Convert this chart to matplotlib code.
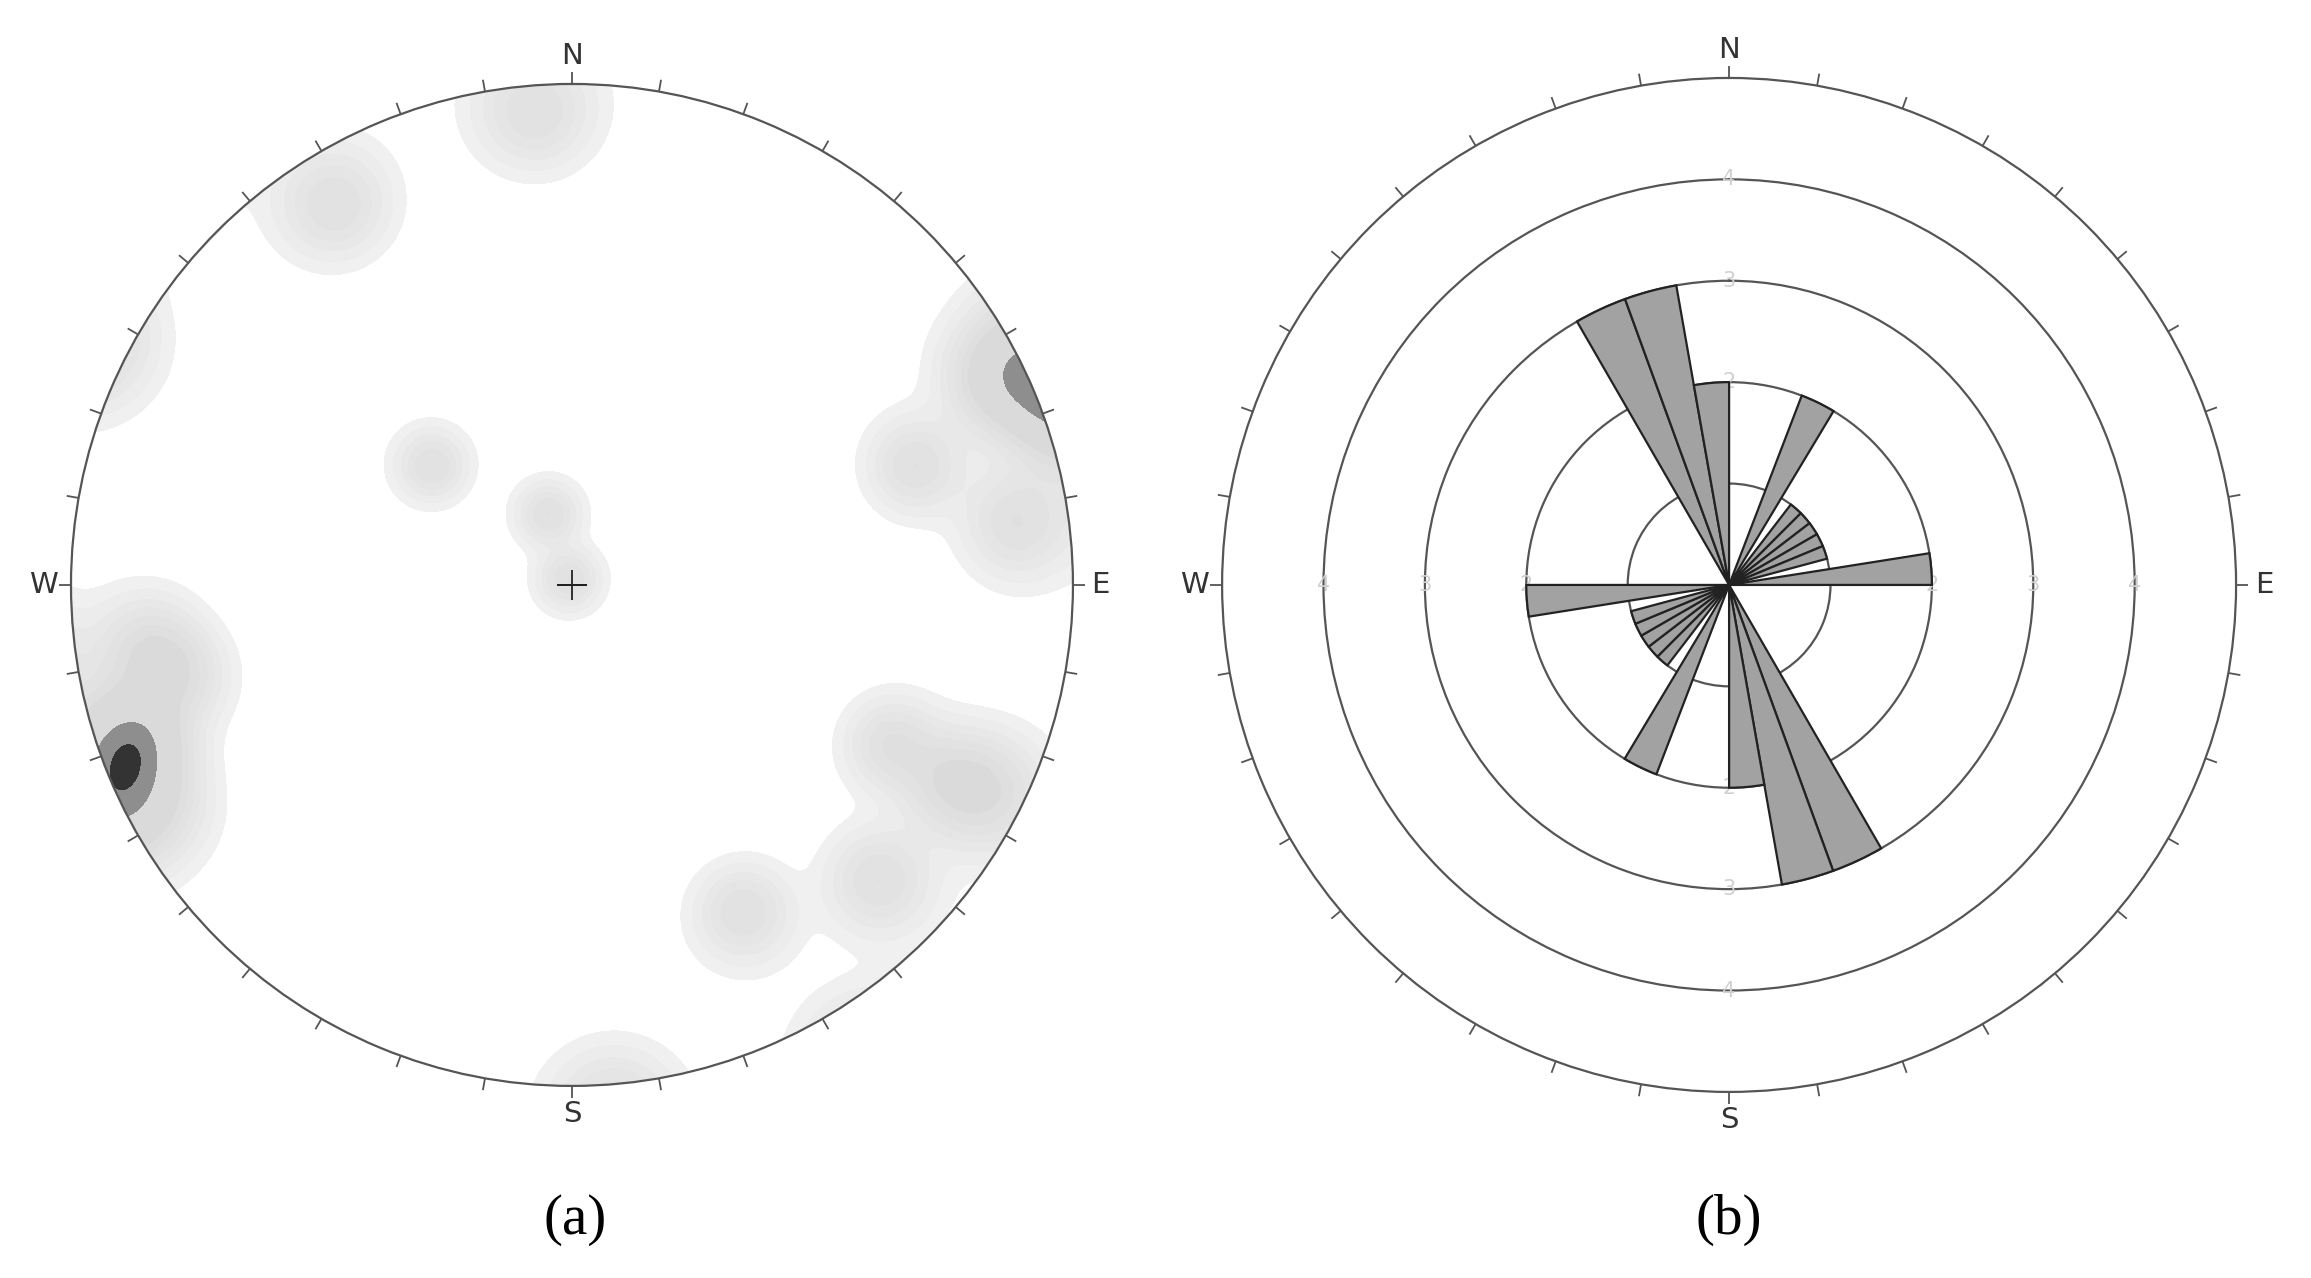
import numpy as np
import matplotlib
matplotlib.use('Agg')
import matplotlib.pyplot as plt

pole_trend = [355.5, 328, 116.6, 310.5, 341.6, 333,
              250, 261.5, 257, 242.4,
              65, 64, 70.8, 82,
              116.5, 117.3, 133.9, 152.4]
pole_plunge = [3, 6.3, 4, 49.7, 73.1, 88.5,
               3.6, 8.9, 12, 3,
               1.6, 3, 18.1, 6.2,
               19, 9.2, 9.3, 17.2]
pole_count = [1, 1, 1, 1, 1, 1,
              3, 1, 1, 1,
              1, 1, 1, 1,
              1, 1, 1, 1]

# (b) rose diagram, 0-180 half (axial data, mirrored to the other half)
rose_start = [330, 340, 350, 21, 37.5, 45, 52.5, 60, 67.5, 81]
rose_width = [10, 10, 10, 10, 7.5, 7.5, 7.5, 7.5, 7.5, 9]
rose_count = [3, 3, 2, 2, 1, 1, 1, 1, 1, 2]

ring_values = [1, 2, 3, 4]
ring_labels = [2, 3, 4]
cardinals = {0: 'N', 90: 'E', 180: 'S', 270: 'W'}

# density contour levels for (a)
levels = [0.1, 0.22, 0.38, 0.55, 0.75, 1.0, 1.3, 2.85, 3.65, 50]
level_colors = ['#f0f0f0', '#ececec', '#e8e8e8', '#e5e5e5', '#e2e2e2',
                '#dfdfdf', '#dadada', '#8e8e8e', '#333333']

EDGE = '#555555'


def setup_compass(ax, rmax):
    ax.set_theta_zero_location('N')
    ax.set_theta_direction(-1)
    ax.set_ylim(0, rmax)
    ax.set_yticks([])
    ax.set_xticks(np.radians(list(cardinals)))
    ax.set_xticklabels(list(cardinals.values()))
    ax.tick_params(axis='x', direction='out', length=10, width=1.3,
                   color=EDGE, pad=3, labelsize=21, labelcolor='#333333')
    ax.xaxis.grid(False)
    ax.spines['polar'].set_color(EDGE)
    ax.spines['polar'].set_linewidth(1.6)
    # 10 degree ticks outside the rim
    tick_len = rmax * 0.024
    for a in np.radians(np.arange(0, 360, 10)):
        ax.plot([a, a], [rmax, rmax + tick_len], color=EDGE, lw=1.3,
                clip_on=False, solid_capstyle='butt')


def density(trend, plunge, weight, kappa=170):
    th = np.radians(np.linspace(0, 360, 721))
    r = np.linspace(0, 1, 301)
    TH, R = np.meshgrid(th, r)
    # inverse equal-angle (stereographic) projection, lower hemisphere
    ang = 2 * np.arctan(R)
    g = np.stack([np.sin(ang) * np.sin(TH), np.sin(ang) * np.cos(TH), -np.cos(ang)], -1)
    t = np.radians(trend)
    p = np.radians(plunge)
    v = np.stack([np.cos(p) * np.sin(t), np.cos(p) * np.cos(t), -np.sin(p)], -1)
    dots = np.abs(g @ v.T)
    return TH, R, (weight * np.exp(kappa * (dots - 1))).sum(-1)


fig = plt.figure(figsize=(23.11, 12.78), dpi=100)

# (a) stereonet
ax1 = fig.add_axes([0.0307, 0.1503, 0.4336, 0.784], projection='polar')
setup_compass(ax1, 1.0)
TH, R, dens = density(np.array(pole_trend), np.array(pole_plunge), np.array(pole_count))
ax1.contourf(TH, R, dens, levels=levels, colors=level_colors)
ax1.plot(0, 0, marker='+', markersize=22, mew=1.3, color='#222222')

# (b) rose
ax2 = fig.add_axes([0.5288, 0.1456, 0.4388, 0.7934], projection='polar')
setup_compass(ax2, 5.0)
ax2.set_yticks(ring_values)
ax2.set_yticklabels([])
ax2.yaxis.grid(True, color=EDGE, linewidth=1.6)
ax2.set_axisbelow(True)

starts = np.array(rose_start + [s + 180 for s in rose_start]) % 360
widths = np.array(rose_width * 2)
counts = np.array(rose_count * 2)
ax2.bar(np.radians(starts), counts, width=np.radians(widths), bottom=0,
        align='edge', color='#a2a2a2', edgecolor='#222222', linewidth=1.6, zorder=3)

for a in cardinals:
    for v in ring_labels:
        ax2.text(np.radians(a), v, str(v), color='#d0d0d0', fontsize=15,
                 ha='center', va='center', zorder=2)

fig.text(575 / 2311, 1 - 1220 / 1278, '(a)', family='Liberation Serif',
         fontsize=41, ha='center', va='center')
fig.text(1729 / 2311, 1 - 1220 / 1278, '(b)', family='Liberation Serif',
         fontsize=41, ha='center', va='center')

fig.savefig('out.png', dpi=100)
